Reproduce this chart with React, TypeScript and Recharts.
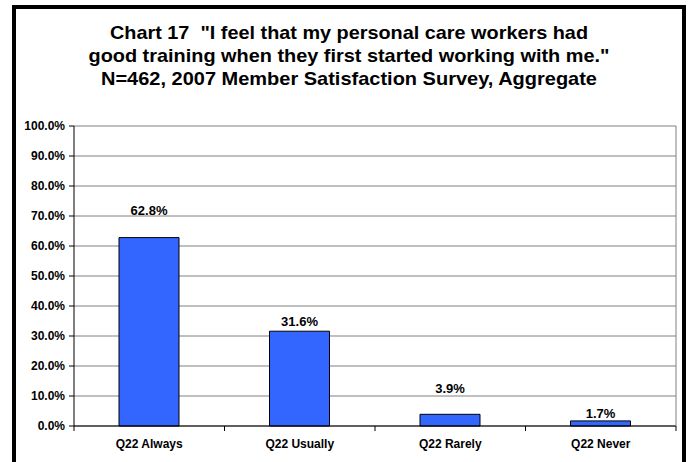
import React from 'react';
import {
  BarChart,
  Bar,
  XAxis,
  YAxis,
  CartesianGrid,
  LabelList,
} from 'recharts';

const categories = ['Q22 Always', 'Q22 Usually', 'Q22 Rarely', 'Q22 Never'];
const percents = [62.8, 31.6, 3.9, 1.7];
const yTicks = [0, 10, 20, 30, 40, 50, 60, 70, 80, 90, 100];
const titleLines = [
  'Chart 17 \u00A0"I feel that my personal care workers had',
  'good training when they first started working with me."',
  'N=462, 2007 Member Satisfaction Survey, Aggregate',
];

const CHART_W = 691;
const CHART_H = 462;
const MARGIN = { top: 126, right: 14, bottom: 0, left: 0 };
const Y_AXIS_W = 74;
const PLOT_W = CHART_W - MARGIN.left - MARGIN.right - Y_AXIS_W - 1;
const HALF_BAND = PLOT_W / categories.length / 2;

const FONT = '"Liberation Sans", Arial, sans-serif';

// label offsets above each bar, as placed in the original
const labelLift = [23, 5, 21, 3];

const chartData = categories.map((name, i) => ({ name, value: percents[i] }));

function XTick(props: any) {
  const { x, y, payload, index } = props;
  return (
    <g>
      <line x1={x - HALF_BAND} y1={y} x2={x - HALF_BAND} y2={y + 5} stroke="#000" />
      {index === categories.length - 1 && (
        <line x1={x + HALF_BAND} y1={y} x2={x + HALF_BAND} y2={y + 5} stroke="#000" />
      )}
      <text
        x={x}
        y={y + 22}
        textAnchor="middle"
        fontFamily={FONT}
        fontWeight="bold"
        fontSize={12}
        fill="#000"
      >
        {payload.value}
      </text>
    </g>
  );
}

function BarLabel(props: any) {
  const { x, y, width, value, index } = props;
  return (
    <text
      x={x + width / 2}
      y={y - labelLift[index]}
      textAnchor="middle"
      fontFamily={FONT}
      fontWeight="bold"
      fontSize={13}
      fill="#000"
    >
      {Number(value).toFixed(1)}%
    </text>
  );
}

export default function App() {
  return (
    <div
      style={{
        position: 'absolute',
        left: 0,
        top: 0,
        width: CHART_W,
        height: CHART_H,
        background: '#fff',
        overflow: 'hidden',
      }}
    >
      <div
        style={{
          position: 'absolute',
          left: 12,
          top: 5,
          width: 674,
          height: 480,
          border: '4px solid #000',
          boxSizing: 'border-box',
        }}
      />
      <svg
        width={CHART_W}
        height={110}
        style={{ position: 'absolute', left: 0, top: 0 }}
      >
        {titleLines.map((line, i) => (
          <text
            key={i}
            x={349}
            y={38.5 + i * 23}
            textAnchor="middle"
            fontFamily={FONT}
            fontWeight="bold"
            fontSize={19}
            textLength={[478, 521, 496][i]}
            lengthAdjust="spacingAndGlyphs"
            fill="#000"
          >
            {line}
          </text>
        ))}
      </svg>
      <div style={{ position: 'absolute', left: 0, top: 0 }}>
        <BarChart width={CHART_W} height={CHART_H} data={chartData} margin={MARGIN}>
          <CartesianGrid vertical={false} stroke="#808080" />
          <XAxis
            dataKey="name"
            height={36}
            axisLine={{ stroke: '#000' }}
            tickLine={false}
            tickSize={0}
            tickMargin={0}
            interval={0}
            tick={<XTick />}
          />
          <YAxis
            width={Y_AXIS_W}
            domain={[0, 100]}
            ticks={yTicks}
            interval={0}
            tickSize={5}
            tickMargin={4}
            axisLine={{ stroke: '#000' }}
            tickLine={{ stroke: '#000' }}
            tickFormatter={(v: number) => `${v.toFixed(1)}%`}
            tick={{ fontFamily: FONT, fontWeight: 'bold', fontSize: 12, fill: '#000' }}
          />
          <YAxis
            yAxisId="right"
            orientation="right"
            width={1}
            domain={[0, 100]}
            tick={false}
            tickLine={false}
            axisLine={{ stroke: '#808080' }}
          />
          <Bar
            dataKey="value"
            fill="#3366FF"
            stroke="#000"
            strokeWidth={1}
            barSize={60}
            isAnimationActive={false}
          >
            <LabelList dataKey="value" content={<BarLabel />} />
          </Bar>
        </BarChart>
      </div>
    </div>
  );
}
